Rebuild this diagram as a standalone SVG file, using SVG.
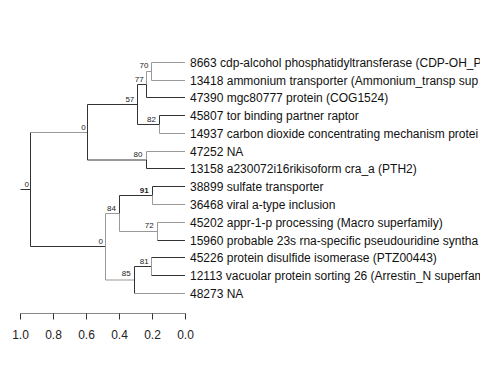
<svg xmlns="http://www.w3.org/2000/svg" width="480" height="384" viewBox="0 0 480 384">
<style>
.d{stroke:#333;stroke-width:1;fill:none}
.g{stroke:#999;stroke-width:1;fill:none}
.leaf{font-family:"Liberation Sans",Arial,sans-serif;font-size:12px;fill:#111}
.nl{font-family:"Liberation Sans",Arial,sans-serif;font-size:8px;fill:#222;text-anchor:end}
.ax{font-family:"Liberation Sans",Arial,sans-serif;font-size:12px;fill:#222;text-anchor:middle}
</style>
<rect width="480" height="384" fill="#fff"/>
<g id="connectors">
<!-- root -->
<path class="d" d="M20.5 189.5H30.5"/>
<path class="d" d="M30.5 132.5V246.5"/>
<path class="g" d="M30.5 132.5H87.5"/>
<path class="d" d="M30.5 246.5H105.5"/>
<!-- clade A -->
<path class="d" d="M87.5 104.5V160"/>
<path class="d" d="M87.5 104.5H137.5"/>
<path class="d" d="M87.5 160H146.5"/>
<path class="d" d="M137.5 84.5V124.5"/>
<path class="d" d="M137.5 84.5H146.5"/>
<path class="d" d="M137.5 124.5H159.5"/>
<path class="g" d="M146.5 71.5V84.5"/>
<path class="d" d="M146.5 84.5V97.5"/>
<path class="g" d="M146.5 71.5H151.5"/>
<path class="d" d="M146.5 97.5H185"/>
<path class="g" d="M151.5 62.5V80.5"/>
<path class="g" d="M151.5 62.5H185"/>
<path class="g" d="M151.5 80.5H185"/>
<path class="d" d="M159.5 115.5V124.5"/>
<path class="g" d="M159.5 124.5V133.5"/>
<path class="d" d="M159.5 115.5H185"/>
<path class="g" d="M159.5 133.5H185"/>
<path class="g" d="M146.5 151.5V160"/>
<path class="d" d="M146.5 160V168.5"/>
<path class="g" d="M146.5 151.5H185"/>
<path class="d" d="M146.5 168.5H185"/>
<!-- clade B -->
<path class="g" d="M105.5 213.5V280"/>
<path class="g" d="M105.5 213.5H119.5"/>
<path class="g" d="M105.5 280H134.5"/>
<path class="d" d="M119.5 195.5V213.5"/>
<path class="g" d="M119.5 213.5V231.5"/>
<path class="d" d="M119.5 195.5H152.5"/>
<path class="g" d="M119.5 231.5H157.5"/>
<path class="d" d="M152.5 186.5V195.5"/>
<path class="g" d="M152.5 195.5V204.5"/>
<path class="d" d="M152.5 186.5H185"/>
<path class="g" d="M152.5 204.5H185"/>
<path class="g" d="M157.5 222.5V240.5"/>
<path class="g" d="M157.5 222.5H185"/>
<path class="d" d="M157.5 240.5H185"/>
<path class="d" d="M134.5 266.5V293.5"/>
<path class="d" d="M134.5 266.5H151.5"/>
<path class="g" d="M134.5 293.5H185"/>
<path class="g" d="M151.5 257.5V275.5"/>
<path class="d" d="M151.5 257.5H185"/>
<path class="d" d="M151.5 275.5H185"/>
</g>
<g id="leaves">
<g id="t8663"><text class="leaf" x="190" y="66.8">8663 cdp-alcohol phosphatidyltransferase (CDP-OH_P</text></g>
<g id="t13418"><text class="leaf" x="190" y="84.8">13418 ammonium transporter (Ammonium_transp sup</text></g>
<g id="t47390"><text class="leaf" x="190" y="101.8">47390 mgc80777 protein (COG1524)</text></g>
<g id="t45807"><text class="leaf" x="190" y="119.8">45807 tor binding partner raptor</text></g>
<g id="t14937"><text class="leaf" x="190" y="137.8">14937 carbon dioxide concentrating mechanism protei</text></g>
<g id="t47252"><text class="leaf" x="190" y="155.8">47252 NA</text></g>
<g id="t13158"><text class="leaf" x="190" y="172.8">13158 a230072i16rikisoform cra_a (PTH2)</text></g>
<g id="t38899"><text class="leaf" x="190" y="190.8">38899 sulfate transporter</text></g>
<g id="t36468"><text class="leaf" x="190" y="208.8">36468 viral a-type inclusion</text></g>
<g id="t45202"><text class="leaf" x="190" y="226.8">45202 appr-1-p processing (Macro superfamily)</text></g>
<g id="t15960"><text class="leaf" x="190" y="244.8">15960 probable 23s rna-specific pseudouridine syntha</text></g>
<g id="t45226"><text class="leaf" x="190" y="261.8">45226 protein disulfide isomerase (PTZ00443)</text></g>
<g id="t12113"><text class="leaf" x="190" y="279.8">12113 vacuolar protein sorting 26 (Arrestin_N superfam</text></g>
<g id="t48273"><text class="leaf" x="190" y="297.8">48273 NA</text></g>
</g>
<g id="nodelabels">
<g id="n70"><text class="nl" x="148.5" y="67.7">70</text></g>
<g id="n77"><text class="nl" x="143.7" y="82.3">77</text></g>
<g id="n57"><text class="nl" x="134.3" y="102.2">57</text></g>
<g id="n82"><text class="nl" x="156" y="122">82</text></g>
<g id="n80"><text class="nl" x="142.5" y="156.5">80</text></g>
<g id="nA"><text class="nl" x="85.7" y="129.5">0</text></g>
<g id="nroot"><text class="nl" x="29" y="186.5">0</text></g>
<g id="n91"><text class="nl" x="148.7" y="192.8" font-weight="bold">91</text></g>
<g id="n84"><text class="nl" x="116" y="211.3">84</text></g>
<g id="n72"><text class="nl" x="153.7" y="227.5">72</text></g>
<g id="nB"><text class="nl" x="103" y="243.5">0</text></g>
<g id="n81"><text class="nl" x="148.7" y="263.7">81</text></g>
<g id="n85"><text class="nl" x="130.7" y="276.2">85</text></g>
</g>
<g id="axis">
<path d="M20.5 313.5H185.5" stroke="#888" stroke-width="1"/>
<path d="M20.5 313.5V319.5M53.5 313.5V319.5M86.5 313.5V319.5M119.5 313.5V319.5M152.5 313.5V319.5M185.5 313.5V319.5" stroke="#333" stroke-width="1"/>
<text class="ax" x="20.5" y="338.5">1.0</text>
<text class="ax" x="53.5" y="338.5">0.8</text>
<text class="ax" x="86.5" y="338.5">0.6</text>
<text class="ax" x="119.5" y="338.5">0.4</text>
<text class="ax" x="152.5" y="338.5">0.2</text>
<text class="ax" x="185.5" y="338.5">0.0</text>
</g>
</svg>
